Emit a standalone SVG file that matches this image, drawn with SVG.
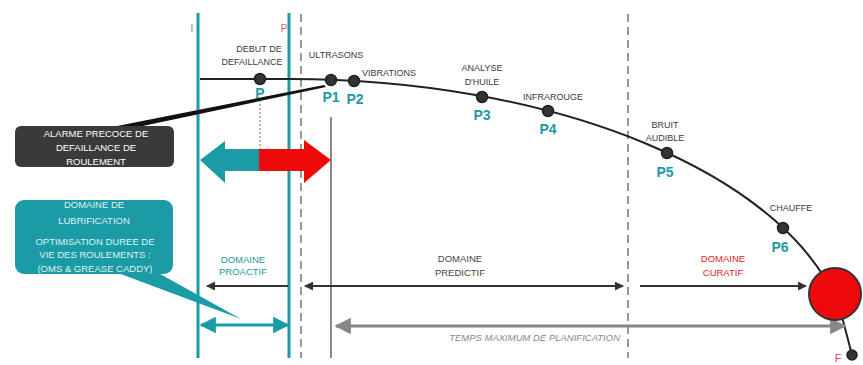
<svg xmlns="http://www.w3.org/2000/svg" width="863" height="365" viewBox="0 0 863 365">
<defs>
<style>
.lbl{font-family:"Liberation Sans",Arial,sans-serif;font-size:9px;fill:#3a3a3a;text-anchor:middle}
.pl{font-family:"Liberation Sans",Arial,sans-serif;font-size:14px;font-weight:bold;fill:#1a9ba6;text-anchor:middle}
.dot{fill:#333;stroke:#222;stroke-width:1.5}
.teal{stroke:#1a9ba6;stroke-width:3;fill:none}
.dash{stroke:#777;stroke-width:1.5;stroke-dasharray:8 5;fill:none}
.dom{font-family:"Liberation Sans",Arial,sans-serif;font-size:9.5px;text-anchor:middle}
.wt{font-family:"Liberation Sans",Arial,sans-serif;font-size:9.5px;text-anchor:middle}
</style>
<marker id="ah" viewBox="0 0 10 10" refX="9" refY="5" markerWidth="4.5" markerHeight="4.5" orient="auto-start-reverse"><path d="M0,0 L10,5 L0,10 Z" fill="#333"/></marker>
<marker id="ahg" viewBox="0 0 10 10" refX="9" refY="5" markerWidth="5.5" markerHeight="5.5" orient="auto-start-reverse"><path d="M0,0 L10,5 L0,10 Z" fill="#888"/></marker>
<marker id="aht" viewBox="0 0 10 10" refX="9" refY="5" markerWidth="5.5" markerHeight="5.5" orient="auto-start-reverse"><path d="M0,0 L10,5 L0,10 Z" fill="#1a9ba6"/></marker>
</defs>
<rect width="863" height="365" fill="#fff"/>

<g id="guides">
<line class="teal" x1="198" y1="13" x2="198" y2="358"/>
<line class="teal" x1="289" y1="13" x2="289" y2="358"/>
<line class="dash" x1="301" y1="14" x2="301" y2="358"/>
<line class="dash" x1="628" y1="14" x2="628" y2="358"/>
<line x1="331" y1="117" x2="331" y2="358" stroke="#888" stroke-width="2"/>
<line x1="260" y1="100" x2="260" y2="150" stroke="#888" stroke-width="1.2" stroke-dasharray="2 2"/>
<text x="192" y="32" font-family="Liberation Sans,Arial,sans-serif" font-size="10" fill="#888" text-anchor="middle">I</text>
<text x="284" y="32" font-family="Liberation Sans,Arial,sans-serif" font-size="10" fill="#e06080" text-anchor="middle">P</text>
</g>

<g id="connectors">
<path d="M200,79 L290,79 A560,283 0 0 1 840,309 L852,355" fill="none" stroke="#222" stroke-width="2"/>
<polygon points="112,127 138,127 326,87 324,85" fill="#111"/>
<line x1="288" y1="286" x2="207" y2="286" stroke="#333" stroke-width="2" marker-end="url(#ah)"/>
<line x1="305" y1="286" x2="623" y2="286" stroke="#333" stroke-width="2" marker-start="url(#ah)" marker-end="url(#ah)"/>
<line x1="640" y1="286" x2="806" y2="286" stroke="#333" stroke-width="2" marker-end="url(#ah)"/>
<line x1="336" y1="326" x2="845" y2="326" stroke="#888" stroke-width="3" marker-start="url(#ahg)" marker-end="url(#ahg)"/>
<line x1="201" y1="325" x2="288" y2="325" stroke="#1a9ba6" stroke-width="3" marker-start="url(#aht)" marker-end="url(#aht)"/>
</g>

<g id="big-arrow">
<polygon points="200,160 225,141 225,149 260,149 260,171 225,171 225,183" fill="#1a9ba6"/>
<polygon points="259,149 304,149 304,140 331,160 304,183 304,171 259,171" fill="#ee0a0a"/>
</g>

<g id="end-circle">
<circle cx="835" cy="294" r="26" fill="#ee0a0a" stroke="#333" stroke-width="2"/>
<circle class="dot" cx="852" cy="355" r="5"/>
<text x="838" y="362" font-family="Liberation Sans,Arial,sans-serif" font-size="11" fill="#e04060" text-anchor="middle">F</text>
</g>

<g id="P">
<circle class="dot" cx="260" cy="79" r="5.5"/>
<text class="lbl" x="259" y="52">DEBUT DE</text>
<text class="lbl" x="252" y="65">DEFAILLANCE</text>
<text class="pl" x="260" y="98">P</text>
</g>
<g id="P1">
<circle class="dot" cx="331" cy="80" r="5.5"/>
<text class="lbl" x="336" y="58">ULTRASONS</text>
<text class="pl" x="331" y="102">P1</text>
</g>
<g id="P2">
<circle class="dot" cx="354" cy="81" r="5.5"/>
<text class="lbl" x="389" y="76">VIBRATIONS</text>
<text class="pl" x="355" y="104">P2</text>
</g>
<g id="P3">
<circle class="dot" cx="482" cy="97" r="5.5"/>
<text class="lbl" x="482" y="71">ANALYSE</text>
<text class="lbl" x="482" y="85">D'HUILE</text>
<text class="pl" x="482" y="120">P3</text>
</g>
<g id="P4">
<circle class="dot" cx="548" cy="111" r="5.5"/>
<text class="lbl" x="553" y="100">INFRAROUGE</text>
<text class="pl" x="548" y="134">P4</text>
</g>
<g id="P5">
<circle class="dot" cx="667" cy="153" r="5.5"/>
<text class="lbl" x="665" y="128">BRUIT</text>
<text class="lbl" x="665" y="141">AUDIBLE</text>
<text class="pl" x="665" y="177">P5</text>
</g>
<g id="P6">
<circle class="dot" cx="783" cy="228" r="5.5"/>
<text class="lbl" x="791" y="211">CHAUFFE</text>
<text class="pl" x="780" y="252">P6</text>
</g>

<g id="alarme">
<rect x="15" y="126" width="159" height="41" rx="6" fill="#3a3a3a"/>
<text class="wt" x="96" y="137" fill="#fff">ALARME PRECOCE DE</text>
<text class="wt" x="96" y="151" fill="#fff">DEFAILLANCE DE</text>
<text class="wt" x="96" y="165" fill="#fff">ROULEMENT</text>
</g>

<g id="lubrification">
<polygon points="110,270 153,270 241,319" fill="#1a9ba6"/>
<rect x="15" y="200" width="158" height="74" rx="9" fill="#1a9ba6"/>
<text class="wt" x="94" y="208" fill="#dff3f3">DOMAINE DE</text>
<text class="wt" x="94" y="224" fill="#dff3f3">LUBRIFICATION</text>
<text class="wt" x="95" y="245" fill="#dff3f3">OPTIMISATION DUREE DE</text>
<text class="wt" x="95" y="258" fill="#dff3f3">VIE DES ROULEMENTS :</text>
<text class="wt" x="95" y="272" fill="#dff3f3">(OMS &amp; GREASE CADDY)</text>
</g>

<g id="domaines">
<text class="dom" x="243" y="263" fill="#1a9ba6">DOMAINE</text>
<text class="dom" x="243" y="275" fill="#1a9ba6">PROACTIF</text>
<text class="dom" x="460" y="262" fill="#444">DOMAINE</text>
<text class="dom" x="460" y="276" fill="#444">PREDICTIF</text>
<text class="dom" x="723" y="262" fill="#e02030">DOMAINE</text>
<text class="dom" x="723" y="276" fill="#e02030">CURATIF</text>
<text x="620" y="341" font-family="Liberation Sans,Arial,sans-serif" font-size="9.5" font-style="italic" fill="#888" text-anchor="end">TEMPS MAXIMUM DE PLANIFICATION</text>
</g>
</svg>
